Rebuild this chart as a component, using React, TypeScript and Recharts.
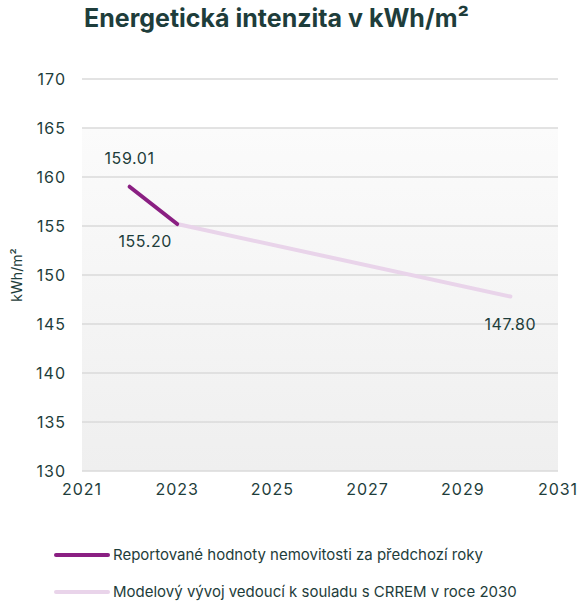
import { LineChart, Line, XAxis, YAxis, CartesianGrid } from "recharts";

const years: number[] = [2022, 2023, 2030];
const reported: (number | null)[] = [159.01, 155.2, null];
const modeled: (number | null)[] = [null, 155.2, 147.8];
const xTicks: number[] = [2021, 2023, 2025, 2027, 2029, 2031];
const yTicks: number[] = [130, 135, 140, 145, 150, 155, 160, 165, 170];

const TITLE = "Energetická intenzita v kWh/m²";
const Y_LABEL = "kWh/m²";
const NAME_REPORTED = "Reportované hodnoty nemovitosti za předchozí roky";
const NAME_MODELED = "Modelový vývoj vedoucí k souladu s CRREM v roce 2030";

const PURPLE = "#8a1f82";
const PINK = "#e9d4ea";
const TEXT = "#1e3d3b";
const FONT = "Inter, sans-serif";

const data = years.map((year, i) => ({
  year,
  reported: reported[i],
  modeled: modeled[i],
}));

const fmt = (v: number) => v.toFixed(2);

const valueText = (x: number, y: number, value: number) => (
  <text
    x={x}
    y={y}
    textAnchor="middle"
    dominantBaseline="middle"
    fill={TEXT}
    fontSize={16}
    fontFamily={FONT}
    letterSpacing={0.6}
  >
    {fmt(value)}
  </text>
);

// label offsets relative to the point
const reportedLabel = (props: any) => {
  const { x, y, value, index } = props;
  if (value == null) return null;
  return index === 0 ? valueText(x, y - 27, value) : valueText(x - 32, y + 19, value);
};

const modeledLabel = (props: any) => {
  const { x, y, value, index } = props;
  if (value == null || index !== data.length - 1) return null;
  return valueText(x, y + 29, value);
};

const legendItems = [
  { name: NAME_REPORTED, color: PURPLE },
  { name: NAME_MODELED, color: PINK },
];

export default function App() {
  return (
    <div
      style={{
        position: "absolute",
        left: 0,
        top: 0,
        width: 580,
        height: 603,
        background: "#fff",
        fontFamily: FONT,
      }}
    >
      <div
        style={{
          position: "absolute",
          top: 3,
          left: 0,
          width: 553,
          textAlign: "center",
          fontSize: 25,
          fontWeight: 700,
          color: TEXT,
        }}
      >
        {TITLE}
      </div>
      <LineChart
        width={580}
        height={603}
        data={data}
        margin={{ top: 79, right: 22, bottom: 102, left: 0 }}
      >
        <defs>
          <linearGradient id="bg" x1="0" y1="0" x2="0" y2="1">
            <stop offset="0" stopColor="#ffffff" />
            <stop offset="0.124" stopColor="#ffffff" />
            <stop offset="0.125" stopColor="#fbfbfb" />
            <stop offset="1" stopColor="#efefef" />
          </linearGradient>
        </defs>
        <CartesianGrid
          vertical={false}
          stroke="#dadada"
          strokeWidth={1.5}
          fill="url(#bg)"
        />
        <XAxis
          dataKey="year"
          type="number"
          domain={[2021, 2031]}
          ticks={xTicks}
          axisLine={false}
          tickLine={false}
          tickSize={0}
          tickMargin={13}
          height={30}
          tick={{ fill: TEXT, fontSize: 16, fontFamily: FONT, letterSpacing: 1 }}
        />
        <YAxis
          type="number"
          domain={[130, 170]}
          ticks={yTicks}
          axisLine={false}
          tickLine={false}
          tickSize={0}
          tickMargin={16}
          width={82}
          tick={{ fill: TEXT, fontSize: 16, fontFamily: FONT, letterSpacing: 1 }}
          label={{
            value: Y_LABEL,
            angle: -90,
            position: "insideLeft",
            offset: 17,
            fill: TEXT,
            fontSize: 14,
            fontFamily: FONT,
            style: { textAnchor: "middle" },
          }}
        />
        <Line
          dataKey="modeled"
          stroke={PINK}
          strokeWidth={4}
          strokeLinecap="round"
          dot={false}
          activeDot={false}
          isAnimationActive={false}
          label={modeledLabel}
        />
        <Line
          dataKey="reported"
          stroke={PURPLE}
          strokeWidth={4}
          strokeLinecap="round"
          dot={false}
          activeDot={false}
          isAnimationActive={false}
          label={reportedLabel}
        />
      </LineChart>
      {legendItems.map((item, i) => (
        <div
          key={item.name}
          style={{
            position: "absolute",
            left: 54,
            top: 545 + i * 37,
            display: "flex",
            alignItems: "center",
            fontSize: 15,
            color: TEXT,
          }}
        >
          <span
            style={{
              display: "inline-block",
              width: 56,
              height: 4,
              borderRadius: 2,
              background: item.color,
              marginRight: 3,
            }}
          />
          {item.name}
        </div>
      ))}
    </div>
  );
}
